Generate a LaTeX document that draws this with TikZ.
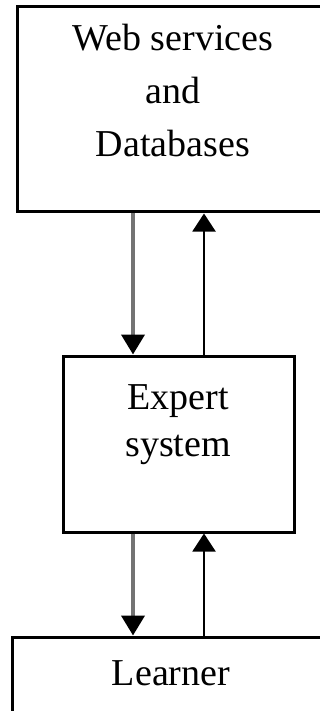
\documentclass[tikz,border=0pt]{standalone}
\usepackage{fontspec}
\setmainfont{Liberation Serif}
\usetikzlibrary{arrows.meta}
\tikzset{
  block/.style={draw, line width=3pt, inner sep=0pt},
  blocktext/.style={inner sep=0pt, align=center, text=black,
    font=\fontsize{38}{53}\selectfont},
  feed/.style={draw=black!55, line width=4pt,
    -{Triangle[length=20pt,width=23pt,color=black]}},
  back/.style={draw=black, line width=2pt,
    -{Triangle[length=18pt,width=23pt]}}
}
\begin{document}
\begin{tikzpicture}[x=1pt, y=-1pt]
  \useasboundingbox (0,0) rectangle (320,711);
  \clip (0,0) rectangle (320,711);
  % boxes
  \node[block, minimum width=312pt, minimum height=205pt] (web) at (173,109.5) {};
  \node[block, minimum width=231pt, minimum height=176pt] (expert) at (178.5,444) {};
  \node[block, minimum width=318pt, minimum height=123pt] (learner) at (171,698.5) {};
  % texts
  \node[blocktext] (webtext) at (173,90.5) {Web services\\and\\Databases};
  \node[blocktext, font=\fontsize{38}{47}\selectfont] (experttext) at (178,425) {Expert\\system};
  \node[blocktext, anchor=base] (learnertext) at (171,685) {Learner};
  % arrows
  \coordinate (lx) at (133,0);
  \coordinate (rx) at (204,0);
  \draw[feed] (lx |- web.south) -- (lx |- expert.north);
  \draw[back] (rx |- expert.north) -- (rx |- web.south);
  \draw[feed] (lx |- expert.south) -- (lx |- learner.north);
  \draw[back] (rx |- learner.north) -- (rx |- expert.south);
\end{tikzpicture}
\end{document}
